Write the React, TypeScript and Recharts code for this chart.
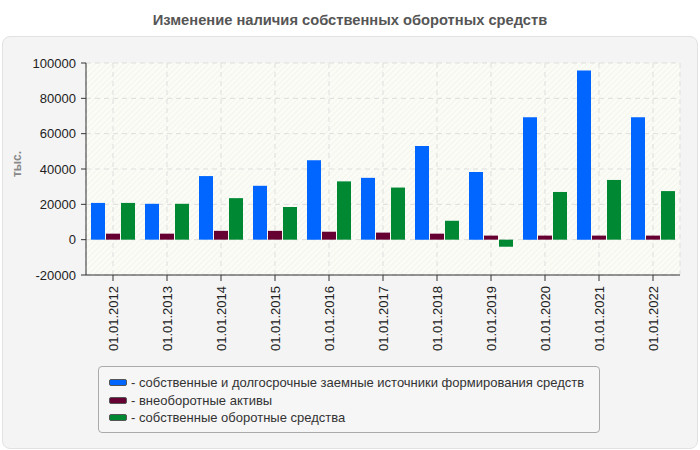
import React from 'react';
import { BarChart, Bar, XAxis, YAxis, CartesianGrid } from 'recharts';

const dates = [
  '01.01.2012', '01.01.2013', '01.01.2014', '01.01.2015', '01.01.2016', '01.01.2017',
  '01.01.2018', '01.01.2019', '01.01.2020', '01.01.2021', '01.01.2022',
];
const ownAndLongTerm = [20800, 20300, 36000, 30500, 45000, 35000, 53000, 38300, 69300, 95800, 69300];
const nonCurrentAssets = [3400, 3400, 5000, 5000, 4500, 4000, 3400, 2300, 2300, 2300, 2300];
const ownWorkingCapital = [20800, 20300, 23500, 18500, 33000, 29500, 10700, -4000, 27000, 33800, 27500];
const yTicks = [-20000, 0, 20000, 40000, 60000, 80000, 100000];

const series = [
  { key: 'a', name: 'собственные и долгосрочные заемные источники формирования средств', color: '#0066ff' },
  { key: 'b', name: 'внеоборотные активы', color: '#660033' },
  { key: 'c', name: 'собственные оборотные средства', color: '#008833' },
];

const data = dates.map((date, i) => ({
  date,
  a: ownAndLongTerm[i],
  b: nonCurrentAssets[i],
  c: ownWorkingCapital[i],
}));

const FONT = '"Liberation Sans", Arial, sans-serif';

const DateTick = (props: any) => {
  const { x, y, payload } = props;
  return (
    <text
      x={x}
      y={y + 3}
      dy="0.35em"
      transform={`rotate(-90, ${x}, ${y + 3})`}
      textAnchor="end"
      fill="#222"
      fontSize={13}
      fontFamily={FONT}
    >
      {payload.value}
    </text>
  );
};

export default function App() {
  return (
    <div style={{ position: 'absolute', left: 0, top: 0, width: 700, height: 450, background: '#fff', fontFamily: FONT }}>
      <div
        style={{
          position: 'absolute', left: 0, top: 0, width: 700, height: 36, lineHeight: '40px',
          textAlign: 'center', fontWeight: 'bold', fontSize: 14.7, color: '#555',
        }}
      >
        Изменение наличия собственных оборотных средств
      </div>
      <div
        style={{
          position: 'absolute', left: 2, top: 36, width: 694, height: 411, background: '#f4f4f4',
          border: '1px solid #e2e2e2', borderRadius: 8,
        }}
      />
      <div
        style={{
          position: 'absolute', left: 17, top: 164, transform: 'translate(-50%, -50%) rotate(-90deg)',
          fontSize: 12, fontWeight: 'bold', color: '#888',
        }}
      >
        тыс.
      </div>
      <div style={{ position: 'absolute', left: 0, top: 0 }}>
        <BarChart
          width={700}
          height={450}
          data={data}
          margin={{ top: 63, right: 20, left: 0, bottom: 0 }}
          barCategoryGap={5}
          barGap={1}
        >
          <defs>
            <pattern id="hatch" patternUnits="userSpaceOnUse" width="4" height="4" patternTransform="rotate(45)">
              <rect width="4" height="4" fill="#fcfcf7" />
              <line x1="0" y1="0" x2="0" y2="4" stroke="#f0f0eb" strokeWidth="1.2" />
            </pattern>
          </defs>
          <CartesianGrid fill="url(#hatch)" stroke="#dddddd" strokeDasharray="5 4" />
          <XAxis
            dataKey="date"
            interval={0}
            height={175}
            tick={<DateTick />}
            tickSize={6}
            axisLine={{ stroke: '#333' }}
            tickLine={{ stroke: '#333' }}
          />
          <XAxis xAxisId="top" orientation="top" dataKey="date" height={0} tick={false} tickLine={false} axisLine={{ stroke: '#dddddd' }} />
          <YAxis
            width={86}
            domain={[-20000, 100000]}
            ticks={yTicks}
            interval={0}
            tickSize={5}
            tickMargin={5}
            axisLine={{ stroke: '#333' }}
            tickLine={{ stroke: '#333' }}
            tick={{ fill: '#222', fontSize: 13, fontFamily: FONT }}
          />
          <YAxis yAxisId="right" orientation="right" width={0} domain={[-20000, 100000]} tick={false} tickLine={false} axisLine={{ stroke: '#dddddd' }} />
          {series.map((s) => (
            <Bar key={s.key} dataKey={s.key} name={s.name} fill={s.color} isAnimationActive={false} />
          ))}
        </BarChart>
      </div>
      <div
        style={{
          position: 'absolute', left: 98, top: 366, width: 502, height: 67, boxSizing: 'border-box',
          border: '1px solid #aaa', borderRadius: 4, background: '#f6f6f6', padding: '7px 0 0 10px',
        }}
      >
        {series.map((s) => (
          <div key={s.key} style={{ display: 'flex', alignItems: 'center', height: 17.5, fontSize: 13, color: '#333', whiteSpace: 'nowrap' }}>
            <span
              style={{
                display: 'inline-block', width: 16, height: 5, background: s.color,
                border: '1px solid #555', borderRadius: 2, marginRight: 4,
              }}
            />
            - {s.name}
          </div>
        ))}
      </div>
    </div>
  );
}
